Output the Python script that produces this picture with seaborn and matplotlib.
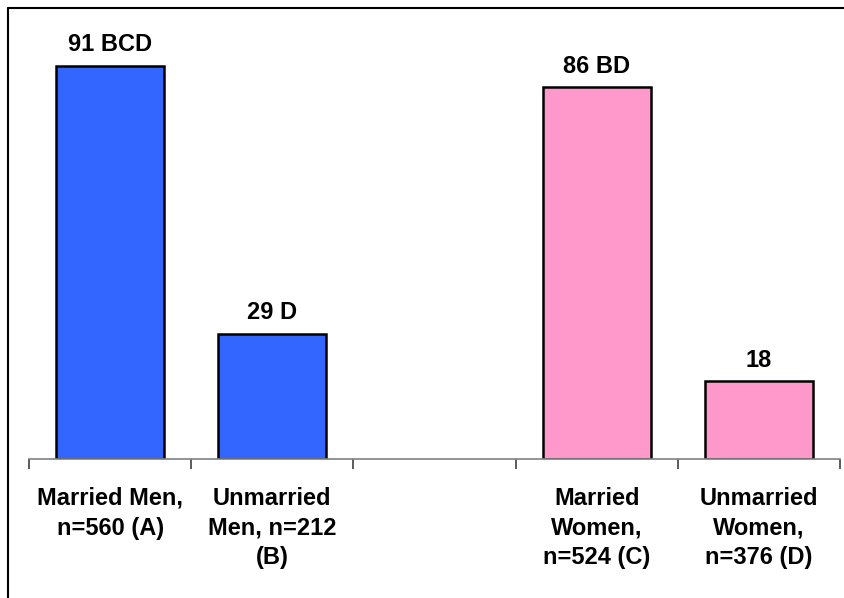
import matplotlib
matplotlib.use("Agg")
import matplotlib.pyplot as plt
import seaborn as sns
import pandas as pd
from matplotlib.lines import Line2D

categories = ["Married Men,\nn=560 (A)", "Unmarried\nMen, n=212\n(B)", " ",
              "Married\nWomen,\nn=524 (C)", "Unmarried\nWomen,\nn=376 (D)"]
values = [91, 29, None, 86, 18]
value_labels = ["91 BCD", "29 D", "", "86 BD", "18"]
colors = ["#3366FF", "#3366FF", "#FFFFFF", "#FF99CC", "#FF99CC"]

sns.set_theme(style="white")
plt.rcParams['font.family'] = ['Liberation Sans', 'DejaVu Sans']

rows = [(c, v) for c, v in zip(categories, values) if v is not None]
df = pd.DataFrame(rows, columns=["group", "value"])
palette = {c: col for c, col in zip(categories, colors)}

fig = plt.figure(figsize=(8.45, 5.98), dpi=100)
ax = fig.add_axes([29/845, 1-459/598, 811/845, 432/598])

sns.barplot(data=df, x="group", y="value", hue="group", order=categories,
            hue_order=categories, palette=palette, legend=False, saturation=1,
            width=0.667, edgecolor="black", linewidth=1.8, ax=ax)

ax.set_xlim(-0.5, len(categories) - 0.5)
ax.set_ylim(0, 100)
ax.set_xlabel("")
ax.set_ylabel("")
ax.set_yticks([])

for i, (v, lab) in enumerate(zip(values, value_labels)):
    if v is None:
        continue
    ax.annotate(lab, xy=(i, v), xytext=(0, 7), textcoords="offset points",
                ha="center", va="bottom", fontsize=17, fontweight="bold",
                color="black")

ax.set_xticks(range(len(categories)))
ax.set_xticklabels(categories, fontsize=17, fontweight="bold", linespacing=1.38)
ax.tick_params(axis="x", which="major", length=0, pad=20, colors="black")
ax.set_xticks([i - 0.5 for i in range(len(categories) + 1)], minor=True)
ax.tick_params(axis="x", which="minor", length=7, width=1.2, color="#404040",
               direction="out", bottom=True)

for s in ["top", "right", "left"]:
    ax.spines[s].set_visible(False)
ax.spines["bottom"].set_color("#808080")
ax.spines["bottom"].set_linewidth(1.2)

fig.add_artist(Line2D([8/845, 8/845], [0, 1-8/598], transform=fig.transFigure,
                      color="black", linewidth=1.5))
fig.add_artist(Line2D([8/845, 1], [1-8/598, 1-8/598], transform=fig.transFigure,
                      color="black", linewidth=1.5))

fig.savefig("out.png", dpi=100)
